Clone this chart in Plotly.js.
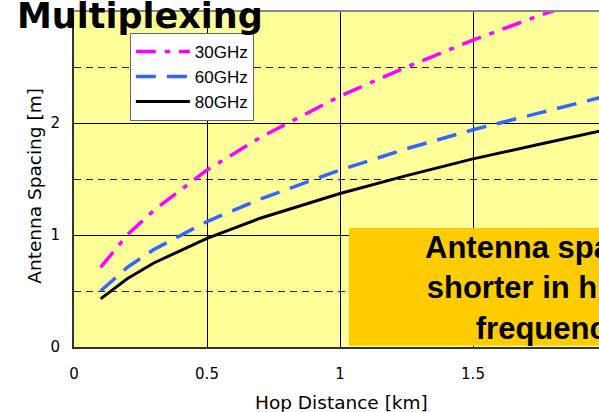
<!DOCTYPE html>
<html>
<head>
<meta charset="utf-8">
<script src="https://cdn.plot.ly/plotly-3.0.1.min.js"></script>
<style>
html, body { margin: 0; padding: 0; overflow: hidden; background: #fff; }
#chart { width: 620px; height: 412px; }
</style>
</head>
<body>
<div id="chart"></div>
<script>
// Hop distance [km]
const hopDistance = [0.1, 0.2, 0.3, 0.5, 0.7, 1.0, 1.25, 1.5, 1.75, 2.0];
// Antenna spacing [m]
const spacing30GHz = [0.71, 1.00, 1.22, 1.58, 1.87, 2.24, 2.50, 2.74, 2.96, 3.16];
const spacing60GHz = [0.50, 0.71, 0.87, 1.12, 1.32, 1.58, 1.77, 1.94, 2.09, 2.24];
const spacing80GHz = [0.43, 0.61, 0.75, 0.97, 1.15, 1.37, 1.53, 1.68, 1.81, 1.94];
const seriesNames = ['30GHz', '60GHz', '80GHz'];
const xTickVals = [0, 0.5, 1, 1.5];
const xTickText = ['0', '0.5', '1', '1.5'];
const yTickVals = [0, 1, 2];
const yTickText = ['0', '1', '2'];

const tickFont = {family: 'DejaVu Sans', size: 15, color: '#000'};
const labelFont = {family: 'DejaVu Sans', size: 18.5, color: '#000'};

const traces = [
  {x: hopDistance, y: spacing30GHz, name: seriesNames[0], mode: 'lines', legendgroup: 'a',
   line: {color: '#FF00FF', width: 3.5, dash: '20px,9px,5px,9px'}},
  {x: hopDistance, y: spacing60GHz, name: seriesNames[1], mode: 'lines', legendgroup: 'b',
   line: {color: '#3366FF', width: 3.5, dash: '20px,11px'}},
  {x: hopDistance, y: spacing80GHz, name: seriesNames[2], mode: 'lines', legendgroup: 'c',
   line: {color: '#000000', width: 3}}
];

const layout = {
  width: 620, height: 412,
  margin: {l: 74, r: 14, t: 11, b: 65, pad: 0},
  paper_bgcolor: '#FFFFFF',
  plot_bgcolor: '#FFFF99',
  showlegend: true,
  legend: {
    x: 0.105, y: 0.935, xanchor: 'left', yanchor: 'top',
    bgcolor: '#FFFFFF', bordercolor: '#666666', borderwidth: 1,
    font: {family: 'Liberation Sans, Arial', size: 17, color: '#000'},
    traceorder: 'grouped', tracegroupgap: 0, itemwidth: 54
  },
  xaxis: {
    range: [0, 2], tickvals: xTickVals, ticktext: xTickText,
    showgrid: true, gridcolor: '#000000', gridwidth: 1,
    minor: {tickvals: [2], showgrid: true, gridcolor: '#000000', gridwidth: 1, ticks: ''},
    zeroline: false, showline: true, linecolor: '#333333', linewidth: 2,
    ticks: '', tickfont: tickFont, ticklabelstandoff: 12, fixedrange: true
  },
  yaxis: {
    range: [0, 3], tickvals: yTickVals, ticktext: yTickText,
    showgrid: true, gridcolor: '#000000', gridwidth: 1,
    minor: {dtick: 0.5, showgrid: true, gridcolor: '#222222', gridwidth: 1, griddash: '7px,5px', ticks: ''},
    zeroline: false, showline: true, linecolor: '#333333', linewidth: 2,
    ticks: '', tickfont: tickFont, ticklabelstandoff: 9, fixedrange: true
  },
  shapes: [
    {type: 'line', xref: 'paper', yref: 'paper', x0: 0, x1: 1, y0: 1, y1: 1,
     line: {color: '#888888', width: 2}, layer: 'above'},
    {type: 'rect', xref: 'paper', yref: 'paper', x0: 0.517, x1: 1.2, y0: 0.004, y1: 0.354,
     fillcolor: '#FFCC00', line: {width: 0}, layer: 'above'}
  ],
  annotations: [
    {text: 'Multiplexing', xref: 'paper', yref: 'paper', x: -0.11, y: 0.985,
     xanchor: 'left', yanchor: 'middle', showarrow: false,
     font: {family: 'DejaVu Sans', size: 35, color: '#000', weight: 'bold'}},
    {text: '<b>Antenna spacing<br>shorter in higher<br>frequency</b>', xref: 'paper', yref: 'paper',
     x: 0.895, y: 0.176, xanchor: 'center', yanchor: 'middle', align: 'center', showarrow: false,
     font: {family: 'Liberation Sans, Arial', size: 31, color: '#000'}},
    {text: 'Hop Distance [km]', xref: 'paper', yref: 'paper', x: 0.502, y: -0.164,
     xanchor: 'center', yanchor: 'middle', showarrow: false, font: labelFont},
    {text: 'Antenna Spacing [m]', xref: 'paper', yref: 'paper', x: -0.0733, y: 0.48,
     xanchor: 'center', yanchor: 'middle', textangle: -90, showarrow: false, font: labelFont}
  ]
};

Plotly.newPlot('chart', traces, layout, {displayModeBar: false, staticPlot: true});
</script>
</body>
</html>
